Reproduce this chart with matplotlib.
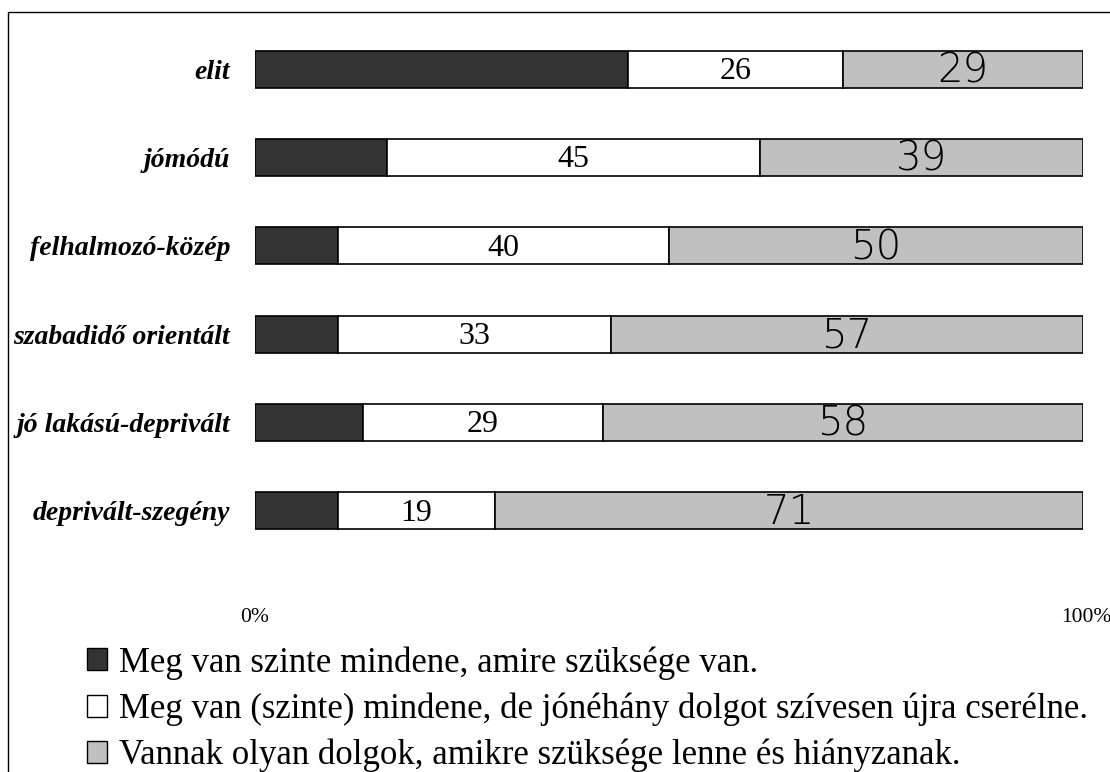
import numpy as np
import matplotlib.pyplot as plt
from matplotlib.patches import Patch, Rectangle
from matplotlib.transforms import ScaledTranslation

categories = ["elit", "jómódú", "felhalmozó-közép", "szabadidő orientált",
              "jó lakású-deprivált", "deprivált-szegény"]
dark = [45, 16, 10, 10, 13, 10]
white = [26, 45, 40, 33, 29, 19]
grey = [29, 39, 50, 57, 58, 71]
legend_labels = ["Meg van szinte mindene, amire szüksége van.",
                 "Meg van (szinte) mindene, de jónéhány dolgot szívesen újra cserélne.",
                 "Vannak olyan dolgok, amikre szüksége lenne és hiányzanak."]
colors = ["#333333", "#ffffff", "#c0c0c0"]

serif = ["Liberation Serif", "DejaVu Serif"]

fig = plt.figure(figsize=(11.1, 7.72), dpi=100)
ax = fig.add_axes([255 / 1110, 1 - 555 / 772, 828 / 1110, 530 / 772])

y = np.arange(len(categories))
h = 0.42
left = np.zeros(len(categories))
for vals, c in zip([dark, white, grey], colors):
    ax.barh(y, vals, left=left, height=h, color=c, edgecolor="black", linewidth=1.2)
    left += np.array(vals)

for i in range(len(categories)):
    ax.text(dark[i] + white[i] / 2, y[i] + 0.025, str(white[i]), ha="center", va="center",
            family=serif, fontsize=23)
    ax.text(dark[i] + white[i] + grey[i] / 2, y[i] + 0.02, str(grey[i]), ha="center",
            va="center", family="DejaVu Sans", fontsize=29, fontweight="light")

ax.set_xlim(0, 100)
ax.set_ylim(len(categories) - 0.5, -0.5)
ax.set_yticks(y)
ax.set_yticklabels(categories, family=serif, fontsize=20, fontweight="bold", fontstyle="italic")
ax.set_xticks([0, 100])
ax.set_xticklabels(["0%", "100%"], family=serif, fontsize=15.5)
ax.tick_params(axis="y", length=0, pad=18)
ax.tick_params(axis="x", length=0, pad=38)
for s in ax.spines.values():
    s.set_visible(False)
xl = ax.get_xticklabels()
xl[1].set_transform(xl[1].get_transform() + ScaledTranslation(0.03, 0, fig.dpi_scale_trans))

handles = [Patch(facecolor=c, edgecolor="black", linewidth=1.0) for c in colors]
fig.legend(handles, legend_labels, loc="upper left", bbox_to_anchor=(0.078, 0.163),
           frameon=False, prop={"family": serif, "size": 25}, handlelength=0.6,
           handleheight=0.6, handletextpad=0.32, labelspacing=0.37, borderpad=0,
           borderaxespad=0)

fig.patches.append(Rectangle((8 / 1110, -0.1), 1.2, 1 - 12 / 772 + 0.1,
                             transform=fig.transFigure, fill=False,
                             edgecolor="black", linewidth=1.0))

fig.savefig("out.png", dpi=100)
